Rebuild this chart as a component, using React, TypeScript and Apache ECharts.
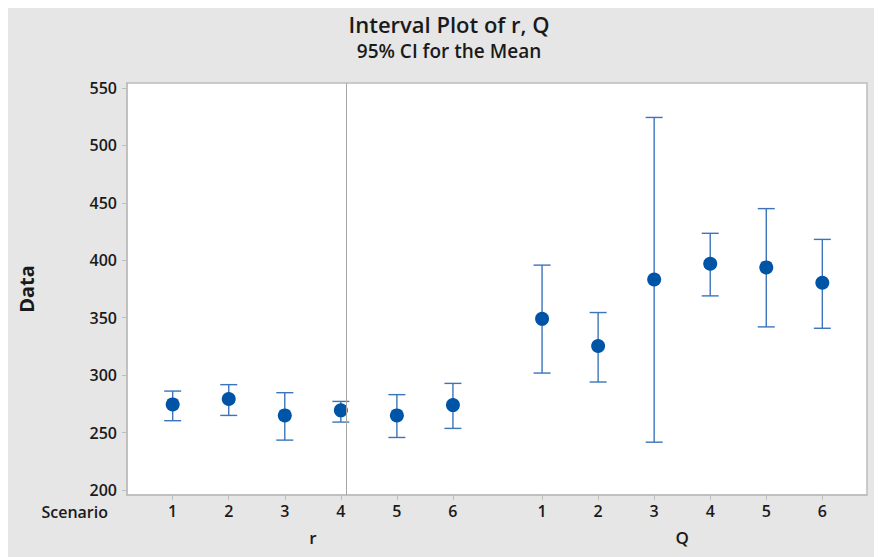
import React, { useEffect, useRef } from "react";
import * as echarts from "echarts";

// ---- data ----
const groupNames = ["r", "Q"];
const scenarioLabels = ["1", "2", "3", "4", "5", "6"];
const rMean = [274.5, 279.2, 264.9, 269.3, 264.9, 273.9];
const rLower = [260.3, 264.9, 243.4, 259.1, 245.7, 253.6];
const rUpper = [286.1, 291.7, 284.7, 277.1, 283.0, 292.8];
const qMean = [349.0, 325.4, 383.3, 397.0, 393.8, 380.4];
const qLower = [301.8, 294.0, 241.6, 369.0, 342.0, 340.8];
const qUpper = [395.8, 354.5, 524.4, 423.5, 445.0, 418.2];
const yTickValues = [200, 250, 300, 350, 400, 450, 500, 550];
const referenceLineX = 4.1;

// ---- layout constants ----
const GROUP_STEP = 6.59; // distance between first scenarios of the two groups (axis units)
const FONT = "'Segoe UI', 'Open Sans', 'Noto Sans', sans-serif";

const groups = [
  { mean: rMean, lower: rLower, upper: rUpper },
  { mean: qMean, lower: qLower, upper: qUpper },
];

const positions: number[] = [];
const labelFor: string[] = [];
const meanData: number[][] = [];
const ciData: number[][] = [];
groups.forEach((g, gi) => {
  scenarioLabels.forEach((lab, i) => {
    const x = 1 + i + gi * GROUP_STEP;
    positions.push(x);
    labelFor.push(lab);
    meanData.push([x, g.mean[i]]);
    ciData.push([x, g.lower[i], g.upper[i]]);
  });
});
const groupCenters = groupNames.map(
  (_, gi) => 1 + gi * GROUP_STEP + (scenarioLabels.length - 1) / 2
);

const X_MIN = 0.185;
const X_MAX = 1 + GROUP_STEP + 5 + 0.797;
const Y_MIN = 195.6;
const Y_MAX = 554.4;

function nearestIndex(arr: number[], v: number) {
  let best = 0;
  let d = Infinity;
  arr.forEach((a, i) => {
    const dd = Math.abs(a - v);
    if (dd < d) {
      d = dd;
      best = i;
    }
  });
  return best;
}

export default function App() {
  const ref = useRef<HTMLDivElement>(null);
  useEffect(() => {
    if (!ref.current) return;
    const chart = echarts.init(ref.current, null, { renderer: "svg" });
    const axisColor = "#bdbdbd";
    const textColor = "#1a1a1a";
    const barColor = "#3b74ba";
    chart.setOption({
      animation: false,
      backgroundColor: "#e6e6e6",
      title: [
        {
          text: "Interval Plot of r, Q",
          left: 441,
          top: 3,
          textAlign: "center",
          padding: 0,
          textStyle: { fontFamily: FONT, fontSize: 22, fontWeight: 600, color: textColor, lineHeight: 26 },
        },
        {
          text: "95% CI for the Mean",
          left: 441,
          top: 32,
          textAlign: "center",
          padding: 0,
          textStyle: { fontFamily: FONT, fontSize: 19, fontWeight: 600, color: textColor, lineHeight: 22 },
        },
      ],
      grid: {
        left: 118,
        right: 15,
        top: 75,
        bottom: 62,
        show: true,
        backgroundColor: "#ffffff",
        borderColor: axisColor,
        borderWidth: 1.5,
      },
      xAxis: [
        {
          type: "value",
          min: X_MIN,
          max: X_MAX,
          position: "bottom",
          splitLine: { show: false },
          axisLine: { show: true, onZero: false, lineStyle: { color: axisColor, width: 1.5 } },
          axisTick: { show: true, customValues: positions, length: 5, lineStyle: { color: axisColor } },
          axisLabel: {
            customValues: positions,
            formatter: (v: number) => labelFor[nearestIndex(positions, v)],
            fontFamily: FONT,
            fontSize: 16,
            fontWeight: 600,
            color: textColor,
            margin: 8,
          },
        },
        {
          type: "value",
          min: X_MIN,
          max: X_MAX,
          position: "bottom",
          offset: 26,
          splitLine: { show: false },
          axisLine: { show: false },
          axisTick: { show: false },
          axisLabel: {
            customValues: groupCenters,
            formatter: (v: number) => groupNames[nearestIndex(groupCenters, v)],
            fontFamily: FONT,
            fontSize: 17,
            fontWeight: 600,
            color: textColor,
            margin: 8,
          },
        },
      ],
      yAxis: {
        type: "value",
        min: Y_MIN,
        max: Y_MAX,
        name: "Data",
        nameLocation: "middle",
        nameGap: 91,
        nameRotate: 90,
        nameTextStyle: { fontFamily: FONT, fontSize: 20, fontWeight: "bold", color: textColor },
        splitLine: { show: false },
        axisLine: { show: true, lineStyle: { color: axisColor, width: 1.5 } },
        axisTick: { show: true, customValues: yTickValues, length: 5, lineStyle: { color: axisColor } },
        axisLabel: {
          customValues: yTickValues,
          fontFamily: FONT,
          fontSize: 16,
          fontWeight: 600,
          color: textColor,
          margin: 10,
        },
      },
      graphic: [
        {
          type: "text",
          x: 100,
          y: 503.5,
          style: {
            text: "Scenario",
            fontFamily: FONT,
            fontSize: 16,
            fontWeight: 600,
            fill: textColor,
            align: "right",
            verticalAlign: "middle",
          },
        },
      ],
      series: [
        {
          type: "custom",
          name: "CI",
          xAxisIndex: 0,
          data: ciData,
          encode: { x: 0, y: [1, 2] },
          z: 2,
          renderItem: (params: any, api: any) => {
            const x = api.value(0);
            const pLo = api.coord([x, api.value(1)]);
            const pHi = api.coord([x, api.value(2)]);
            const hw = 8.5;
            const style = { stroke: barColor, lineWidth: 1.4, fill: "none" };
            return {
              type: "group",
              children: [
                { type: "line", shape: { x1: pLo[0], y1: pLo[1], x2: pHi[0], y2: pHi[1] }, style },
                { type: "line", shape: { x1: pLo[0] - hw, y1: pLo[1], x2: pLo[0] + hw, y2: pLo[1] }, style },
                { type: "line", shape: { x1: pHi[0] - hw, y1: pHi[1], x2: pHi[0] + hw, y2: pHi[1] }, style },
              ],
            };
          },
        },
        {
          type: "scatter",
          name: "Mean",
          xAxisIndex: 0,
          data: meanData,
          symbol: "circle",
          symbolSize: 14,
          itemStyle: { color: "#0054a6", opacity: 1 },
          z: 3,
          markLine: {
            silent: true,
            symbol: "none",
            label: { show: false },
            lineStyle: { color: "#a6a6a6", width: 1, type: "solid" },
            data: [{ xAxis: referenceLineX }],
          },
        },
      ],
    });
    return () => chart.dispose();
  }, []);
  return <div ref={ref} style={{ width: 874, height: 549 }} />;
}
